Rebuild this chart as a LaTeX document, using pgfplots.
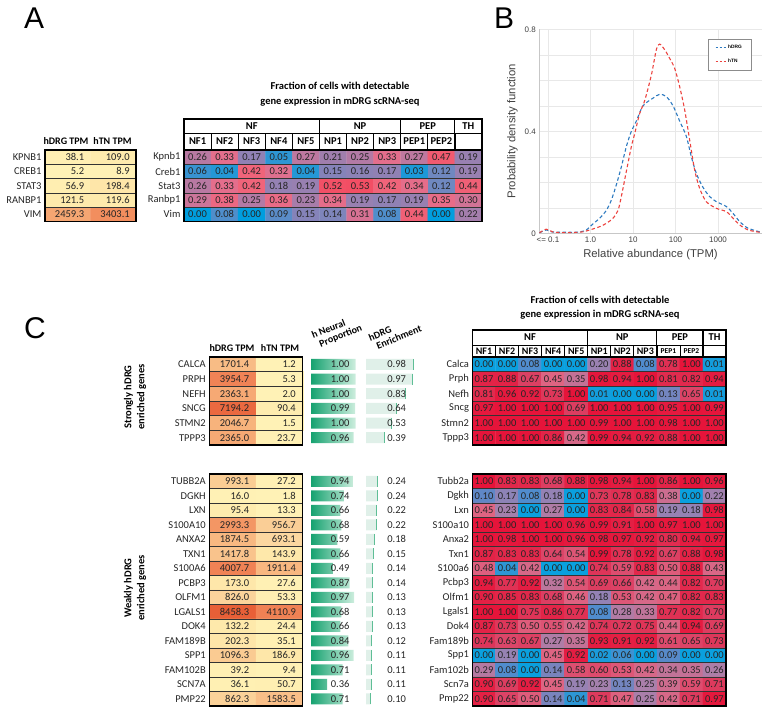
\documentclass[border=0pt]{standalone}
\usepackage{fontspec}
\setmainfont{Carlito}
\newfontfamily\arialfont{Liberation Sans}
\usepackage{pgfplots}
\usepackage{pgfplotstable}
\pgfplotsset{compat=1.18}

\newcommand\fs[1]{\fontsize{#1}{#1}\selectfont}

\definecolor{dblue}{RGB}{45,122,192}
\definecolor{dred}{RGB}{236,66,62}
\definecolor{bargreen}{RGB}{22,162,112}
\definecolor{barlight}{RGB}{205,238,222}
\definecolor{enrfill}{RGB}{224,240,233}
\definecolor{enredge}{RGB}{95,190,150}

% panel A
\pgfplotstableread[row sep=\\]{v\\
0.26\\0.33\\0.17\\0.05\\0.27\\0.21\\0.25\\0.33\\0.27\\0.47\\0.19\\
0.06\\0.04\\0.42\\0.32\\0.04\\0.15\\0.16\\0.17\\0.03\\0.12\\0.19\\
0.26\\0.33\\0.42\\0.18\\0.19\\0.52\\0.53\\0.42\\0.34\\0.12\\0.44\\
0.29\\0.38\\0.25\\0.36\\0.23\\0.34\\0.19\\0.17\\0.19\\0.35\\0.30\\
0.00\\0.08\\0.00\\0.09\\0.15\\0.14\\0.31\\0.08\\0.44\\0.00\\0.22\\
}\hmA
\pgfplotstableread[row sep=\\]{v\\
38.1\\109.0\\ 5.2\\8.9\\ 56.9\\198.4\\ 121.5\\119.6\\ 2459.3\\3403.1\\
}\tpmA

% panel C, strongly enriched
\pgfplotstableread[row sep=\\]{v\\
0.00\\0.00\\0.08\\0.00\\0.00\\0.20\\0.88\\0.08\\0.78\\1.00\\0.01\\
0.87\\0.88\\0.67\\0.45\\0.35\\0.98\\0.94\\1.00\\0.81\\0.82\\0.94\\
0.81\\0.96\\0.92\\0.73\\1.00\\0.01\\0.00\\0.00\\0.13\\0.65\\0.01\\
0.97\\1.00\\1.00\\1.00\\0.69\\1.00\\1.00\\1.00\\0.95\\1.00\\0.99\\
1.00\\1.00\\1.00\\1.00\\1.00\\0.99\\1.00\\1.00\\0.98\\1.00\\1.00\\
1.00\\1.00\\1.00\\0.86\\0.42\\0.99\\0.94\\0.92\\0.88\\1.00\\1.00\\
}\hmS
\pgfplotstableread[row sep=\\]{v\\
1701.4\\1.2\\ 3954.7\\5.3\\ 2363.1\\2.0\\ 7194.2\\90.4\\ 2046.7\\1.5\\ 2365.0\\23.7\\
}\tpmS
\pgfplotstableread[row sep=\\]{n e\\
1.00 0.98\\ 1.00 0.97\\ 1.00 0.83\\ 0.99 0.64\\ 1.00 0.53\\ 0.96 0.39\\
}\barS

% panel C, weakly enriched
\pgfplotstableread[row sep=\\]{v\\
1.00\\0.83\\0.83\\0.68\\0.88\\0.98\\0.94\\1.00\\0.86\\1.00\\0.96\\
0.10\\0.17\\0.08\\0.18\\0.00\\0.73\\0.78\\0.83\\0.38\\0.00\\0.22\\
0.45\\0.23\\0.00\\0.27\\0.00\\0.83\\0.84\\0.58\\0.19\\0.18\\0.98\\
1.00\\1.00\\1.00\\1.00\\0.96\\0.99\\0.91\\1.00\\0.97\\1.00\\1.00\\
1.00\\0.98\\1.00\\1.00\\0.96\\0.98\\0.97\\0.92\\0.80\\0.94\\0.97\\
0.87\\0.83\\0.83\\0.64\\0.54\\0.99\\0.78\\0.92\\0.67\\0.88\\0.98\\
0.48\\0.04\\0.42\\0.00\\0.00\\0.74\\0.59\\0.83\\0.50\\0.88\\0.43\\
0.94\\0.77\\0.92\\0.32\\0.54\\0.69\\0.66\\0.42\\0.44\\0.82\\0.70\\
0.90\\0.85\\0.83\\0.68\\0.46\\0.18\\0.53\\0.42\\0.47\\0.82\\0.83\\
1.00\\1.00\\0.75\\0.86\\0.77\\0.08\\0.28\\0.33\\0.77\\0.82\\0.70\\
0.87\\0.73\\0.50\\0.55\\0.42\\0.74\\0.72\\0.75\\0.44\\0.94\\0.69\\
0.74\\0.63\\0.67\\0.27\\0.35\\0.93\\0.91\\0.92\\0.61\\0.65\\0.73\\
0.00\\0.19\\0.00\\0.45\\0.92\\0.02\\0.06\\0.00\\0.09\\0.00\\0.00\\
0.29\\0.08\\0.00\\0.14\\0.58\\0.60\\0.53\\0.42\\0.34\\0.35\\0.26\\
0.90\\0.69\\0.92\\0.45\\0.19\\0.23\\0.13\\0.25\\0.39\\0.59\\0.71\\
0.90\\0.65\\0.50\\0.14\\0.04\\0.71\\0.47\\0.25\\0.42\\0.71\\0.97\\
}\hmW
\pgfplotstableread[row sep=\\]{v\\
993.1\\27.2\\ 16.0\\1.8\\ 95.4\\13.3\\ 2993.3\\956.7\\ 1874.5\\693.1\\ 1417.8\\143.9\\
4007.7\\1911.4\\ 173.0\\27.6\\ 826.0\\53.3\\ 8458.3\\4110.9\\ 132.2\\24.4\\ 202.3\\35.1\\
1096.3\\186.9\\ 39.2\\9.4\\ 36.1\\50.7\\ 862.3\\1583.5\\
}\tpmW
\pgfplotstableread[row sep=\\]{n e\\
0.94 0.24\\ 0.74 0.24\\ 0.66 0.22\\ 0.68 0.22\\ 0.59 0.18\\ 0.66 0.15\\ 0.49 0.14\\ 0.87 0.14\\
0.97 0.13\\ 0.68 0.13\\ 0.66 0.13\\ 0.84 0.12\\ 0.96 0.11\\ 0.71 0.11\\ 0.36 0.11\\ 0.71 0.10\\
}\barW

\pgfplotsset{
  colormap={hmA}{rgb255(0pt)=(0,158,222) rgb255(5pt)=(45,150,212) rgb255(9pt)=(90,140,200)
    rgb255(16pt)=(140,130,182) rgb255(23pt)=(168,125,170) rgb255(27pt)=(190,120,160)
    rgb255(33pt)=(228,110,140) rgb255(42pt)=(240,100,122) rgb255(53pt)=(242,78,100)},
  colormap={hmC}{rgb255(0pt)=(10,160,222) rgb255(8pt)=(80,140,205) rgb255(10pt)=(95,135,198)
    rgb255(18pt)=(148,130,180) rgb255(25pt)=(170,127,170) rgb255(45pt)=(222,100,130)
    rgb255(68pt)=(220,62,98) rgb255(83pt)=(226,40,75) rgb255(100pt)=(230,20,58)},
  colormap={tpm}{rgb255(0pt)=(255,242,182) rgb255(1.5pt)=(254,232,170) rgb255(7pt)=(252,215,160)
    rgb255(10pt)=(250,205,148) rgb255(14pt)=(249,195,140) rgb255(19pt)=(248,183,128)
    rgb255(30pt)=(243,150,100) rgb255(40pt)=(240,130,85) rgb255(85pt)=(232,95,55)},
  tbl/.style={anchor=north west, scale only axis, enlargelimits=false, y dir=reverse,
    axis on top, clip=false, xtick=\empty,
    major tick length=0pt, minor tick length=0pt,
    axis line style={black, line width=1.4pt},
    xminorgrids=true, yminorgrids=true,
    minor grid style={black!80, line width=0.7pt},
    yticklabel style={font=\fs{10.5}, text=black!85},
    /pgf/number format/assume math mode=true},
  hm/.style={tbl, xmin=-0.5, xmax=10.5, minor xtick={0.5,1.5,...,9.5},
    point meta min=0},
  tp/.style={tbl, xmin=-0.5, xmax=1.5, minor xtick={0.5},
    colormap name=tpm, point meta min=0, point meta max=8500},
  hmlab/.style={only marks, mark=none, point meta=explicit,
    nodes near coords={\pgfmathprintnumber[fixed,fixed zerofill,precision=2]{\pgfplotspointmeta}},
    nodes near coords align=center,
    every node near coord/.append style={font=\fs{10.5}, text=black!85, inner sep=0pt}},
  tplab/.style={only marks, mark=none, point meta=explicit,
    nodes near coords={\pgfmathprintnumber[fixed,fixed zerofill,precision=1,1000 sep={}]{\pgfplotspointmeta}},
    nodes near coords align=center,
    every node near coord/.append style={font=\fs{10.5}, text=black!85, anchor=east, xshift=20pt}},
  bars/.style={anchor=north west, scale only axis, hide axis, clip=false,
    xmin=0, xmax=1, y dir=reverse, enlargelimits=false,
    /pgf/number format/fixed, /pgf/number format/fixed zerofill,
    /pgf/number format/precision=2, /pgf/number format/assume math mode=true},
  barlab/.style={only marks, mark=none,
    nodes near coords, nodes near coords align=center,
    every node near coord/.append style={font=\fs{10.5}, text=black!85, anchor=east}},
  % one-column tables: cell position from the row number (+0.5 guards the rounding)
  table/cells2/.style={x index=0, y index=0,
    x expr={\coordindex-2*floor((\coordindex+0.5)/2)},
    y expr={floor((\coordindex+0.5)/2)}, meta=v},
  table/cells11/.style={x index=0, y index=0,
    x expr={\coordindex-11*floor((\coordindex+0.5)/11)},
    y expr={floor((\coordindex+0.5)/11)}, meta=v},
}

\begin{document}
\begin{tikzpicture}
\useasboundingbox (0pt,0pt) rectangle (766pt,-712pt);

% ---------------- panel A ----------------
\begin{axis}[tp, at={(45pt,-150pt)}, width=91pt, height=71.5pt,
  ymin=-0.5, ymax=4.5, ytick={0,...,4}, yticklabels={KPNB1,CREB1,STAT3,RANBP1,VIM},
  minor ytick={0.5,1.5,...,3.5}]
\addplot[matrix plot*, mesh/cols=2, point meta=explicit] table[cells2] {\tpmA};
\addplot[tplab] table[cells2] {\tpmA};
\end{axis}

\begin{axis}[hm, at={(184pt,-150pt)}, width=298pt, height=71.5pt,
  colormap name=hmA, point meta max=0.53,
  ymin=-0.5, ymax=4.5, ytick={0,...,4}, yticklabels={Kpnb1,Creb1,Stat3,Ranbp1,Vim},
  minor ytick={0.5,1.5,...,3.5}]
\addplot[matrix plot*, mesh/cols=11, point meta=explicit] table[cells11] {\hmA};
\addplot[hmlab] table[cells11] {\hmA};
\end{axis}

% ---------------- panel B ----------------
\begin{axis}[at={(539.3pt,-29.3pt)}, anchor=north west, scale only axis,
  width=222.4pt, height=204pt,
  xmode=log, xmin=0.0624, xmax=10670, ymin=0, ymax=0.8,
  axis x line*=bottom, axis y line*=left,
  axis line style={draw=black!22, line width=1.4pt},
  xtick={0.1,1,10,100,1000}, xticklabels={{<= 0.1},1.0,10,100,1000},
  ytick={0,0.4,0.8}, yticklabels={0,0.4,0.8},
  minor ytick={0.1,0.2,0.3,0.5,0.6,0.7},
  xmajorgrids=true, ymajorgrids=true, yminorgrids=true, xminorgrids=false,
  major grid style={black!9, line width=0.5pt},
  minor grid style={black!9, line width=0.5pt},
  major tick length=0pt, minor tick length=0pt,
  tick label style={font=\arialfont\fs{8}, text=black!75},
  xlabel={Relative abundance (TPM)}, ylabel={Probability density function},
  label style={font=\arialfont\fs{11.3}, text=black!75},
  legend style={at={(0.952,0.952)}, anchor=north east, draw=black!45,
    line width=0.5pt, font=\arialfont\bfseries\fs{4.8},
    inner xsep=7pt, inner ysep=4pt, row sep=5pt},
  legend cell align=left]
\addplot[draw=dblue, line width=1.1pt, dash pattern=on 3.5pt off 2.5pt, smooth, tension=0.5,
  legend image code/.code={\draw[draw=dblue, line width=1.2pt, dash pattern=on 2.5pt off 1.5pt] (0pt,0pt) -- (10pt,0pt);}]
  coordinates {(0.063,0.002) (0.0914,0.013) (0.12,0.006) (0.188,0.004) (0.30,0.004)
  (0.464,0.004) (0.62,0.007) (0.798,0.013) (1.145,0.037) (1.643,0.059) (2.36,0.09)
  (3.09,0.13) (4.05,0.19) (5.31,0.26) (6.97,0.34) (9.14,0.40) (11.97,0.44) (17.2,0.50)
  (29.6,0.53) (42.4,0.545) (60.8,0.536) (87.3,0.50) (125.3,0.44) (179.9,0.38) (236,0.30)
  (309,0.235) (444,0.18) (637,0.144) (914,0.124) (1571,0.105) (2255,0.078) (3236,0.046)
  (5083,0.02) (10470,0.004)};
\addlegendentry{hDRG}
\addplot[draw=dred, line width=1.1pt, dash pattern=on 3.5pt off 2.5pt, smooth, tension=0.5,
  legend image code/.code={\draw[draw=dred, line width=1.2pt, dash pattern=on 2.5pt off 1.5pt] (0pt,0pt) -- (10pt,0pt);}]
  coordinates {(0.063,0.002) (0.0914,0.016) (0.131,0.005) (0.2,0.003) (0.4,0.003)
  (0.667,0.006) (0.955,0.013) (1.643,0.026) (2.36,0.039) (3.38,0.059) (4.44,0.09)
  (5.31,0.144) (6.37,0.21) (7.62,0.275) (9.14,0.34) (10.94,0.39) (14.35,0.47) (18.8,0.52)
  (27.0,0.62) (35.4,0.72) (42.4,0.742) (55.6,0.72) (72.9,0.686) (95.5,0.647) (125.3,0.575)
  (164.4,0.484) (215.4,0.366) (282.5,0.248) (370.6,0.176) (531,0.124) (914,0.098)
  (1571,0.085) (2255,0.059) (3236,0.033) (5083,0.013) (10470,0.003)};
\addlegendentry{hTN}
\end{axis}

% ---------------- panel C, strong ----------------
\begin{axis}[tp, at={(209.3pt,-357pt)}, width=93.4pt, height=88pt,
  ymin=-0.5, ymax=5.5, ytick={0,...,5}, yticklabels={CALCA,PRPH,NEFH,SNCG,STMN2,TPPP3},
  minor ytick={0.5,1.5,...,4.5}]
\addplot[matrix plot*, mesh/cols=2, point meta=explicit] table[cells2] {\tpmS};
\addplot[tplab] table[cells2] {\tpmS};
\end{axis}

\begin{axis}[bars, at={(311pt,-357pt)}, width=44.5pt, height=88pt, ymin=-0.5, ymax=5.5]
\addplot[xbar, bar shift=0pt, bar width=11pt, draw=none, left color=bargreen, right color=barlight]
  table[x=n, y expr=\coordindex] {\barS};
\addplot[barlab, point meta=\thisrow{n}] table[x expr=0.945, y expr=\coordindex] {\barS};
\end{axis}

\begin{axis}[bars, at={(366pt,-357pt)}, width=48pt, height=88pt, ymin=-0.5, ymax=5.5]
\addplot[xbar, bar shift=0pt, bar width=11pt, draw=none, fill=enrfill]
  table[x=e, y expr=\coordindex] {\barS};
\addplot[only marks, mark=|, mark size=5.5pt, mark options={enredge, line width=1pt}]
  table[x=e, y expr=\coordindex] {\barS};
\addplot[barlab, point meta=\thisrow{e}] table[x expr=0.906, y expr=\coordindex] {\barS};
\end{axis}

\begin{axis}[hm, at={(472.5pt,-357pt)}, width=253.5pt, height=88pt,
  colormap name=hmC, point meta max=1,
  ymin=-0.5, ymax=5.5, ytick={0,...,5}, yticklabels={Calca,Prph,Nefh,Sncg,Stmn2,Tppp3},
  minor ytick={0.5,1.5,...,4.5}]
\addplot[matrix plot*, mesh/cols=11, point meta=explicit] table[cells11] {\hmS};
\addplot[hmlab] table[cells11] {\hmS};
\end{axis}

% ---------------- panel C, weak ----------------
\begin{axis}[tp, at={(209.3pt,-474pt)}, width=93.4pt, height=232pt,
  ymin=-0.5, ymax=15.5, ytick={0,...,15},
  yticklabels={TUBB2A,DGKH,LXN,S100A10,ANXA2,TXN1,S100A6,PCBP3,OLFM1,LGALS1,DOK4,FAM189B,SPP1,FAM102B,SCN7A,PMP22},
  minor ytick={0.5,1.5,...,14.5}]
\addplot[matrix plot*, mesh/cols=2, point meta=explicit] table[cells2] {\tpmW};
\addplot[tplab] table[cells2] {\tpmW};
\end{axis}

\begin{axis}[bars, at={(311pt,-474pt)}, width=44.5pt, height=232pt, ymin=-0.5, ymax=15.5]
\addplot[xbar, bar shift=0pt, bar width=11pt, draw=none, left color=bargreen, right color=barlight]
  table[x=n, y expr=\coordindex] {\barW};
\addplot[barlab, point meta=\thisrow{n}] table[x expr=0.945, y expr=\coordindex] {\barW};
\end{axis}

\begin{axis}[bars, at={(366pt,-474pt)}, width=48pt, height=232pt, ymin=-0.5, ymax=15.5]
\addplot[xbar, bar shift=0pt, bar width=11pt, draw=none, fill=enrfill]
  table[x=e, y expr=\coordindex] {\barW};
\addplot[only marks, mark=|, mark size=5.5pt, mark options={enredge, line width=1pt}]
  table[x=e, y expr=\coordindex] {\barW};
\addplot[barlab, point meta=\thisrow{e}] table[x expr=0.906, y expr=\coordindex] {\barW};
\end{axis}

\begin{axis}[hm, at={(472.5pt,-474pt)}, width=253.5pt, height=232pt,
  colormap name=hmC, point meta max=1,
  ymin=-0.5, ymax=15.5, ytick={0,...,15},
  yticklabels={Tubb2a,Dgkh,Lxn,S100a10,Anxa2,Txn1,S100a6,Pcbp3,Olfm1,Lgals1,Dok4,Fam189b,Spp1,Fam102b,Scn7a,Pmp22},
  minor ytick={0.5,1.5,...,14.5}]
\addplot[matrix plot*, mesh/cols=11, point meta=explicit] table[cells11] {\hmW};
\addplot[hmlab] table[cells11] {\hmW};
\end{axis}

% ---------------- texts and table headers ----------------
\begin{scope}[x=1pt, y=-1pt]
  \node[font=\arialfont\fs{30}, anchor=base west, inner sep=0pt] at (24,28.5) {A};
  \node[font=\arialfont\fs{30}, anchor=base west, inner sep=0pt] at (494,28.5) {B};
  \node[font=\arialfont\fs{30}, anchor=base west, inner sep=0pt] at (24,338) {C};

  \node[font=\bfseries\fontsize{10.5}{15}\selectfont, align=center] at (340,94.5)
    {Fraction of cells with detectable\\gene expression in mDRG scRNA-seq};
  \node[font=\bfseries\fontsize{10.5}{13.5}\selectfont, align=center] at (600,307.5)
    {Fraction of cells with detectable\\gene expression in mDRG scRNA-seq};

  \node[font=\bfseries\fs{10}] at (66,141) {hDRG TPM};
  \node[font=\bfseries\fs{10}] at (112.5,141) {hTN TPM};
  \node[font=\bfseries\fs{10}] at (232,348) {hDRG TPM};
  \node[font=\bfseries\fs{10}] at (280,348) {hTN TPM};

  \node[font=\bfseries\fontsize{10.5}{13}\selectfont, rotate=90, align=center] at (135,397)
    {Strongly hDRG\\enriched genes};
  \node[font=\bfseries\fontsize{10.5}{13}\selectfont, rotate=90, align=center] at (135,588)
    {Weakly hDRG\\enriched genes};
  \node[font=\bfseries\fontsize{10}{10.5}\selectfont, rotate=22, align=left, inner sep=1pt] at (337,332)
    {h Neural\\\hspace*{4pt}Proportion};
  \node[font=\bfseries\fontsize{10}{10.5}\selectfont, rotate=22, align=left, inner sep=1pt] at (395,333)
    {hDRG\\\hspace*{4pt}Enrichment};

  % header of heatmap A
  \draw[line width=0.7pt] (184,133) -- (482,133);
  \foreach \i in {1,...,10} \draw[line width=0.7pt] ({184+\i*27.09},133) -- ({184+\i*27.09},150);
  \foreach \xx in {319.45,400.72,454.9} \draw[line width=1.1pt] (\xx,119) -- (\xx,150);
  \draw[line width=1.3pt] (184,119) rectangle (482,150);
  \foreach \lab [count=\i from 0] in {NF1,NF2,NF3,NF4,NF5,NP1,NP2,NP3,PEP1,PEP2}
    \node[font=\bfseries\fs{10.5}] at ({184+(\i+0.5)*27.09},141.5) {\lab};
  \node[font=\bfseries\fs{10.5}] at (251.7,126) {NF};
  \node[font=\bfseries\fs{10.5}] at (360,126) {NP};
  \node[font=\bfseries\fs{10.5}] at (427.8,126) {PEP};
  \node[font=\bfseries\fs{10.5}] at (468.4,126) {TH};

  % header of heatmap C
  \draw[line width=0.7pt] (472.5,345) -- (726,345);
  \foreach \i in {1,...,10} \draw[line width=0.7pt] ({472.5+\i*23.045},345) -- ({472.5+\i*23.045},357);
  \foreach \xx in {587.7,656.9,702.95} \draw[line width=1.1pt] (\xx,330) -- (\xx,357);
  \draw[line width=1.3pt] (472.5,330) rectangle (726,357);
  \foreach \lab [count=\i from 0] in {NF1,NF2,NF3,NF4,NF5,NP1,NP2,NP3}
    \node[font=\bfseries\fs{10}] at ({472.5+(\i+0.5)*23.045},351.2) {\lab};
  \node[font=\bfseries\fs{7.5}] at (668.4,351.2) {PEP1};
  \node[font=\bfseries\fs{7.5}] at (691.4,351.2) {PEP2};
  \node[font=\bfseries\fs{10.5}] at (530.1,337.5) {NF};
  \node[font=\bfseries\fs{10.5}] at (622.3,337.5) {NP};
  \node[font=\bfseries\fs{10.5}] at (679.9,337.5) {PEP};
  \node[font=\bfseries\fs{10.5}] at (714.5,337.5) {TH};
\end{scope}
\end{tikzpicture}
\end{document}
